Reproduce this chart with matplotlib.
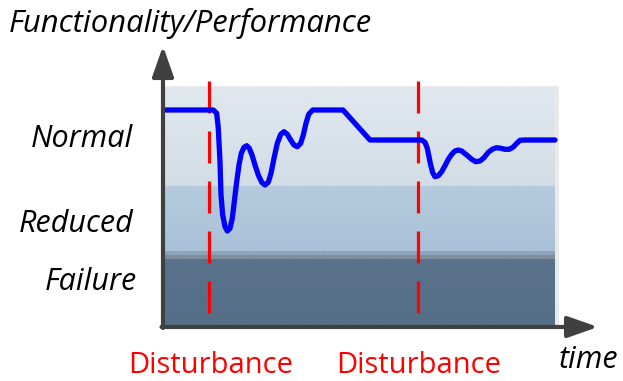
import matplotlib
matplotlib.use("Agg")
import matplotlib.pyplot as plt
import numpy as np
from matplotlib.patches import Rectangle
from matplotlib.colors import LinearSegmentedColormap

plt.rcParams['lines.scale_dashes'] = False

# ---- data (time / performance in arbitrary units) ----
time = [0, 48.3, 51.7, 53.3, 55, 56, 57.7, 60, 62.3, 65, 67.3, 69.3, 71.7, 74,
        76.3, 79, 81.7, 84.3, 87, 90, 93.3, 96.7, 100, 103.3, 106, 109, 112.3,
        115.7, 119, 122.3, 125.7, 129, 132.3, 135.7, 138.3, 141, 143.7, 147.7,
        151.7, 178, 205, 256.7, 260, 262.3, 264, 265.7, 267.7, 270, 273.3,
        276.7, 280, 283.3, 286.7, 290, 293.3, 296.7, 301.7, 306.7, 310.7, 315,
        319, 323.3, 327.7, 331.7, 335.7, 340, 344.3, 348.3, 351.7, 355, 360, 390]
performance = [215, 215, 211.7, 196.7, 163.3, 130, 110, 98.3, 94, 96.7, 106.7,
               123.3, 143.3, 160, 171.7, 177.7, 179.3, 176.7, 170, 160, 150,
               142.7, 140, 142.7, 151.7, 166.7, 181.7, 190.7, 193.3, 190.7, 185,
               180, 178.3, 181.7, 190, 201.7, 210.7, 215, 215, 215, 185, 185,
               182.7, 176.7, 168.3, 160, 152.3, 148.3, 149.3, 153.3, 159.3,
               165.7, 170.7, 174, 175, 174, 170, 165.7, 163.3, 164, 167.3, 172.7,
               176, 177.3, 176.7, 175.7, 175.7, 178, 181.7, 184.7, 185, 185]

disturbance_times = [44, 253]
disturbance_label_x = [45.5, 254]
disturbance_labels = ["Disturbance", "Disturbance"]

level_names = ["Normal", "Reduced", "Failure"]
level_label_base = [178.3, 93.3, 35]
level_label_right = [-32, -32, -28]
# bands: (bottom, top), (bottom colour, top colour)
band_edges = [(139, 238), (73, 139), (69.5, 73), (66, 69.5), (0, 66)]
band_colors = [("#d3dde6", "#e1e8ef"), ("#a9c1d8", "#b5cadd"),
               ("#8ea5bb", "#8ea5bb"), ("#808f9c", "#808f9c"),
               ("#566f89", "#5a728b")]

t_end = 390

# ---- figure ----
fig = plt.figure(figsize=(6.23, 3.81), dpi=100)
ax = fig.add_axes([0, 0, 1, 1])
ax.axis('off')

# subtle shadow behind bands
ax.add_patch(Rectangle((1, -1), t_end + 2.5, 240, facecolor="#e9e9e9",
                       edgecolor="none", zorder=0))
grad = np.linspace(0, 1, 64).reshape(-1, 1)
for (b, t), (c0, c1) in zip(band_edges, band_colors):
    cmap = LinearSegmentedColormap.from_list("band", [c0, c1])
    ax.imshow(grad, cmap=cmap, origin='lower', aspect='auto',
              extent=(0, t_end, b, t), interpolation='bilinear', zorder=1)

# disturbance lines
for td in disturbance_times:
    ax.plot([td, td], [244, 7], color="#ff0000", lw=2.3, dashes=(23, 13),
            solid_capstyle='butt', dash_capstyle='butt', zorder=3)

# performance curve
ax.plot(time, performance, color="#0000ff", lw=3.8, solid_joinstyle='round',
        solid_capstyle='round', zorder=4)

# axes arrows
axis_color = "#404040"
ax.annotate('', xy=(-2, 279), xytext=(-2, -3),
            arrowprops=dict(arrowstyle='-|>,head_length=1.85,head_width=0.65',
                            lw=3, color=axis_color, mutation_scale=10,
                            shrinkA=0, shrinkB=0), zorder=5)
ax.annotate('', xy=(433, -2), xytext=(-3.5, -2),
            arrowprops=dict(arrowstyle='-|>,head_length=1.85,head_width=0.65',
                            lw=3, color=axis_color, mutation_scale=10,
                            shrinkA=0, shrinkB=0), zorder=5)
ax.set_xlim(-165, 458)
ax.set_ylim(-56, 325)

font = "Open Sans"
ax.text(-156, 293, "Functionality/Performance", fontsize=22.3, style='italic',
        family=font, ha='left', va='baseline', color='black')
for name, y, xr in zip(level_names, level_label_base, level_label_right):
    ax.text(xr, y, name, fontsize=22, style='italic', family=font,
            ha='right', va='baseline', color='black')
for tx, lab in zip(disturbance_label_x, disturbance_labels):
    ax.text(tx, -48, lab, fontsize=21, family=font, ha='center',
            va='baseline', color='#ff0000')
ax.text(394, -43, "time", fontsize=22, style='italic', family=font,
        ha='left', va='baseline', color='black')

fig.savefig("out.png", dpi=100)
